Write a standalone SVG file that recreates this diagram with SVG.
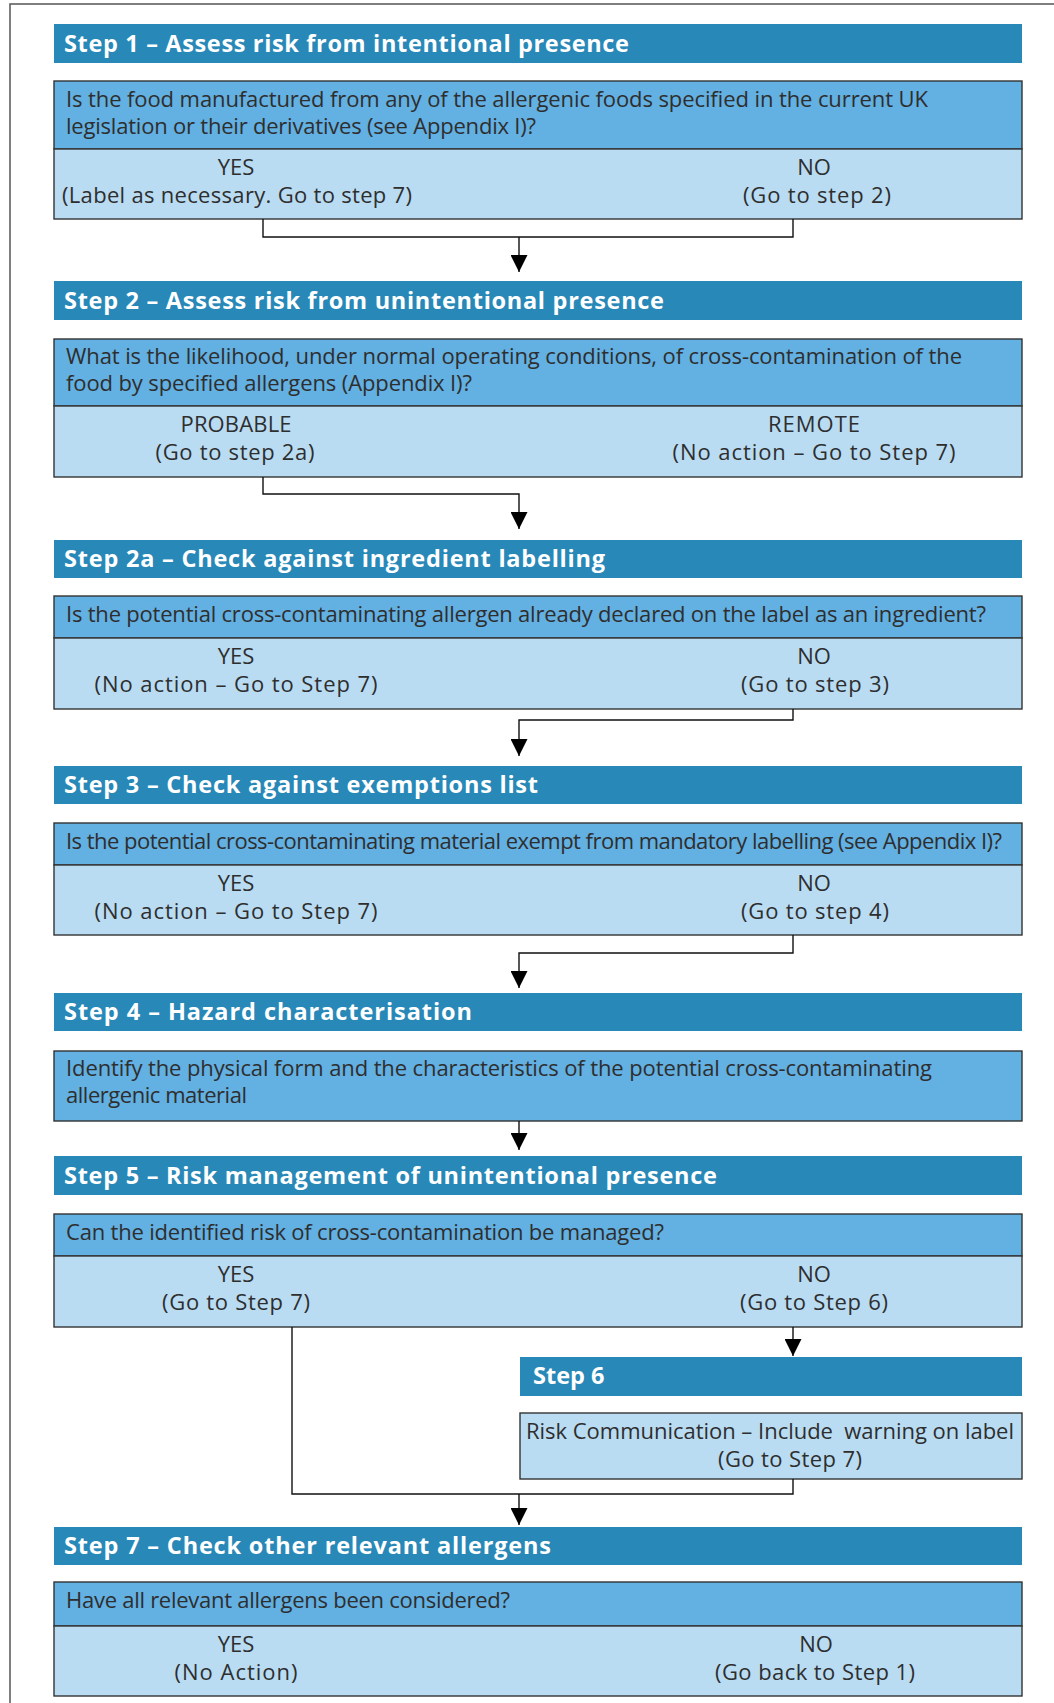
<svg xmlns="http://www.w3.org/2000/svg" width="1054" height="1703" viewBox="0 0 1054 1703">
<style>
.hd{fill:#2888b7}
.q{fill:#63b0e2;stroke:#333;stroke-width:1.4}
.a{fill:#b9dcf3;stroke:#333;stroke-width:1.4}
.ht{font-family:"Open Sans",Lato,sans-serif;font-weight:bold;font-size:23.5px;fill:#fff}
.t{font-family:"Open Sans",Lato,sans-serif;font-size:22px;fill:#2e2e2e}
.c{text-anchor:middle}
.ln{fill:none;stroke:#111;stroke-width:1.4}
</style>
<defs>
<marker id="ah" markerWidth="18" markerHeight="17" refX="18" refY="9" orient="auto" markerUnits="userSpaceOnUse" viewBox="0 0 18 18">
<path d="M0,0 L18,9 L0,18 Z" fill="#000"/>
</marker>
</defs>
<rect width="1054" height="1703" fill="#fff"/>
<path d="M10,1703 V4 H1054" fill="none" stroke="#555" stroke-width="1.5"/>

<g id="step1">
<rect class="hd" x="54" y="24" width="968" height="39"/>
<text class="ht" x="64" y="51.5" textLength="565" lengthAdjust="spacing">Step 1 – Assess risk from intentional presence</text>
<rect class="q" x="54" y="81" width="968" height="68"/>
<rect class="a" x="54" y="149" width="968" height="70"/>
<text class="t" x="66" y="107" textLength="862" lengthAdjust="spacing">Is the food manufactured from any of the allergenic foods specified in the current UK</text>
<text class="t" x="66" y="134" textLength="470" lengthAdjust="spacing">legislation or their derivatives (see Appendix I)?</text>
<text class="t c" x="236" y="175">YES</text>
<text class="t c" x="237" y="203" textLength="350" lengthAdjust="spacing">(Label as necessary. Go to step 7)</text>
<text class="t c" x="814" y="175">NO</text>
<text class="t c" x="817" y="203" textLength="148" lengthAdjust="spacing">(Go to step 2)</text>
</g>

<g id="step2">
<rect class="hd" x="54" y="281" width="968" height="39"/>
<text class="ht" x="64" y="308.5" textLength="600" lengthAdjust="spacing">Step 2 – Assess risk from unintentional presence</text>
<rect class="q" x="54" y="339" width="968" height="67"/>
<rect class="a" x="54" y="406" width="968" height="71"/>
<text class="t" x="66" y="364" textLength="896" lengthAdjust="spacing">What is the likelihood, under normal operating conditions, of cross-contamination of the</text>
<text class="t" x="66" y="391" textLength="406" lengthAdjust="spacing">food by specified allergens (Appendix I)?</text>
<text class="t c" x="236" y="432" textLength="111" lengthAdjust="spacing">PROBABLE</text>
<text class="t c" x="235" y="460" textLength="159" lengthAdjust="spacing">(Go to step 2a)</text>
<text class="t c" x="814" y="432" textLength="92" lengthAdjust="spacing">REMOTE</text>
<text class="t c" x="814" y="460" textLength="283" lengthAdjust="spacing">(No action – Go to Step 7)</text>
</g>

<g id="step2a">
<rect class="hd" x="54" y="540" width="968" height="38"/>
<text class="ht" x="64" y="567" textLength="541" lengthAdjust="spacing">Step 2a – Check against ingredient labelling</text>
<rect class="q" x="54" y="596" width="968" height="42"/>
<rect class="a" x="54" y="638" width="968" height="71"/>
<text class="t" x="66" y="622" textLength="920" lengthAdjust="spacing">Is the potential cross-contaminating allergen already declared on the label as an ingredient?</text>
<text class="t c" x="236" y="664">YES</text>
<text class="t c" x="236" y="692" textLength="283" lengthAdjust="spacing">(No action – Go to Step 7)</text>
<text class="t c" x="814" y="664">NO</text>
<text class="t c" x="815" y="692" textLength="148" lengthAdjust="spacing">(Go to step 3)</text>
</g>

<g id="step3">
<rect class="hd" x="54" y="766" width="968" height="38"/>
<text class="ht" x="64" y="793" textLength="474" lengthAdjust="spacing">Step 3 – Check against exemptions list</text>
<rect class="q" x="54" y="823" width="968" height="42"/>
<rect class="a" x="54" y="865" width="968" height="70"/>
<text class="t" x="66" y="849" textLength="936" lengthAdjust="spacing">Is the potential cross-contaminating material exempt from mandatory labelling (see Appendix I)?</text>
<text class="t c" x="236" y="891">YES</text>
<text class="t c" x="236" y="919" textLength="283" lengthAdjust="spacing">(No action – Go to Step 7)</text>
<text class="t c" x="814" y="891">NO</text>
<text class="t c" x="815" y="919" textLength="148" lengthAdjust="spacing">(Go to step 4)</text>
</g>

<g id="step4">
<rect class="hd" x="54" y="993" width="968" height="38"/>
<text class="ht" x="64" y="1020" textLength="408" lengthAdjust="spacing">Step 4 – Hazard characterisation</text>
<rect class="q" x="54" y="1051" width="968" height="70"/>
<text class="t" x="66" y="1076" textLength="866" lengthAdjust="spacing">Identify the physical form and the characteristics of the potential cross-contaminating</text>
<text class="t" x="66" y="1103" textLength="181" lengthAdjust="spacing">allergenic material</text>
</g>

<g id="step5">
<rect class="hd" x="54" y="1156" width="968" height="39"/>
<text class="ht" x="64" y="1183.5" textLength="653" lengthAdjust="spacing">Step 5 – Risk management of unintentional presence</text>
<rect class="q" x="54" y="1214" width="968" height="42"/>
<rect class="a" x="54" y="1256" width="968" height="71"/>
<text class="t" x="66" y="1240" textLength="598" lengthAdjust="spacing">Can the identified risk of cross-contamination be managed?</text>
<text class="t c" x="236" y="1282">YES</text>
<text class="t c" x="236" y="1310" textLength="148" lengthAdjust="spacing">(Go to Step 7)</text>
<text class="t c" x="814" y="1282">NO</text>
<text class="t c" x="814" y="1310" textLength="148" lengthAdjust="spacing">(Go to Step 6)</text>
</g>

<g id="step6">
<rect class="hd" x="520" y="1357" width="502" height="39"/>
<text class="ht" x="533" y="1384">Step 6</text>
<rect class="a" x="520" y="1413" width="502" height="66"/>
<text class="t c" x="770" y="1439" xml:space="preserve" textLength="488" lengthAdjust="spacing">Risk Communication – Include  warning on label</text>
<text class="t c" x="790" y="1467" textLength="144" lengthAdjust="spacing">(Go to Step 7)</text>
</g>

<g id="step7">
<rect class="hd" x="54" y="1527" width="968" height="38"/>
<text class="ht" x="64" y="1554" textLength="487" lengthAdjust="spacing">Step 7 – Check other relevant allergens</text>
<rect class="q" x="54" y="1582" width="968" height="44"/>
<rect class="a" x="54" y="1626" width="968" height="70"/>
<text class="t" x="66" y="1608" textLength="444" lengthAdjust="spacing">Have all relevant allergens been considered?</text>
<text class="t c" x="236" y="1652">YES</text>
<text class="t c" x="236" y="1680" textLength="123" lengthAdjust="spacing">(No Action)</text>
<text class="t c" x="816" y="1652">NO</text>
<text class="t c" x="815" y="1680" textLength="200" lengthAdjust="spacing">(Go back to Step 1)</text>
</g>

<g id="connectors">
<path class="ln" d="M263,219 V237 H793 V219"/>
<path class="ln" d="M519,237 V272" marker-end="url(#ah)"/>
<path class="ln" d="M263,477 V494 H519 V529" marker-end="url(#ah)"/>
<path class="ln" d="M793,709 V720 H519 V756" marker-end="url(#ah)"/>
<path class="ln" d="M793,935 V953 H519 V988" marker-end="url(#ah)"/>
<path class="ln" d="M519,1121 V1150" marker-end="url(#ah)"/>
<path class="ln" d="M793,1327 V1356" marker-end="url(#ah)"/>
<path class="ln" d="M292,1327 V1494 H793 V1479"/>
<path class="ln" d="M519,1494 V1525" marker-end="url(#ah)"/>
</g>
</svg>
